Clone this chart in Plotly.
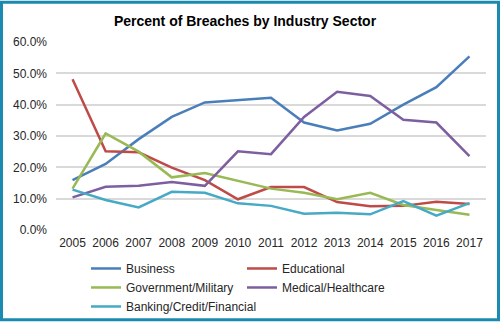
import plotly.graph_objects as go

years = [str(y) for y in range(2005, 2018)]
business = [15.9, 21.1, 29.0, 36.1, 40.7, 41.5, 42.2, 34.3, 31.8, 33.9, 40.0, 45.6, 55.4]
educational = [48.1, 25.1, 24.8, 19.9, 15.9, 9.8, 13.7, 13.7, 8.9, 7.6, 7.7, 9.0, 8.3]
government = [13.2, 30.8, 25.0, 16.8, 18.2, 15.6, 13.2, 11.9, 9.8, 11.9, 8.0, 6.4, 4.9]
medical = [10.4, 13.8, 14.1, 15.3, 14.1, 25.1, 24.2, 36.1, 44.1, 42.8, 35.2, 34.3, 23.6]
banking = [12.9, 9.6, 7.2, 12.2, 11.9, 8.5, 7.7, 5.2, 5.5, 5.0, 9.2, 4.6, 8.6]

series = [
    ("Business", business, "#4A7EBB"),
    ("Educational", educational, "#BE4B48"),
    ("Government/Military", government, "#98B954"),
    ("Medical/Healthcare", medical, "#7D5FA0"),
    ("Banking/Credit/Financial", banking, "#46AAC5"),
]

fig = go.Figure()
for name, vals, color in series:
    fig.add_trace(go.Scatter(
        x=years, y=[v / 100 for v in vals], name=name, mode="lines",
        line=dict(color=color, width=2.5),
    ))

W, H = 500, 333
L, R, T, B = 56, 14, 42, 95
pw = W - L - R
ph = H - T - B

def px_x(p):
    return (p - L) / pw

def px_y(p):
    return (H - B - p) / ph

fig.update_layout(
    width=W, height=H,
    margin=dict(l=L, r=R, t=T, b=B),
    paper_bgcolor="white", plot_bgcolor="white",
    font=dict(family="Liberation Sans, Arial, sans-serif", size=12, color="#262626"),
    title=dict(text="<b>Percent of Breaches by Industry Sector</b>",
               x=245 / W, xanchor="center", y=1 - 21 / H, yanchor="middle",
               font=dict(size=14, color="#000000")),
    xaxis=dict(type="category", range=[-0.5, len(years) - 0.5], showgrid=False,
               showline=False, ticks="",
               tickfont=dict(size=12, color="#262626"), ticklabelstandoff=4),
    yaxis=dict(range=[0, 0.6], dtick=0.1, tickformat=".1%", showgrid=True,
               gridcolor="#D9D9D9", gridwidth=1.5, zeroline=False, showline=False,
               ticks="", tickfont=dict(size=12, color="#262626"), ticklabelstandoff=8),
    legend=dict(orientation="h", x=px_x(86), xanchor="left", y=px_y(263), yanchor="top",
                entrywidth=111, entrywidthmode="pixels", font=dict(size=12, color="#262626"),
                tracegroupgap=0, bgcolor="rgba(0,0,0,0)"),
    showlegend=True,
)

fig.add_shape(type="rect", xref="paper", yref="paper",
              x0=px_x(1.5), x1=px_x(W - 1.5), y0=px_y(H - 1.5), y1=px_y(0.5),
              line=dict(color="#1B8AB0", width=3), fillcolor="rgba(0,0,0,0)", layer="above")

fig.write_html("out.html")
